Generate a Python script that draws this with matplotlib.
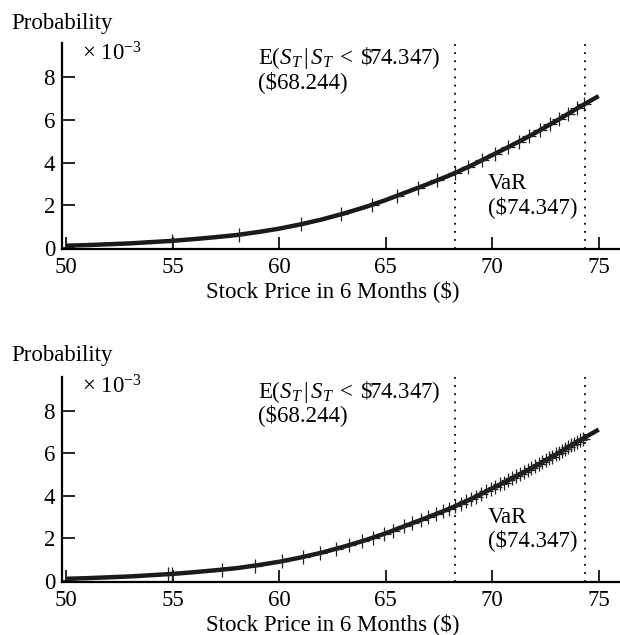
import matplotlib
matplotlib.use("Agg")
import matplotlib.pyplot as plt

plt.rcParams['font.family'] = ['Liberation Serif', 'DejaVu Serif']
plt.rcParams['mathtext.fontset'] = 'custom'
plt.rcParams['mathtext.rm'] = 'Liberation Serif'
plt.rcParams['mathtext.it'] = 'Liberation Serif:italic'

# probability density (x 10^-3)
price = [50, 51, 52, 53, 54, 55, 56, 57, 58, 59, 60, 61, 62,
         63, 64, 65, 66, 67, 68, 69, 70, 71, 72, 73, 74, 75]
density = [0.10, 0.13, 0.17, 0.21, 0.27, 0.33, 0.41, 0.50, 0.60, 0.74, 0.90, 1.10, 1.33,
           1.60, 1.90, 2.24, 2.62, 3.00, 3.40, 3.85, 4.35, 4.85, 5.38, 5.95, 6.55, 7.12]

# sample points marked with "+" (top panel)
top_x = [54.98, 58.12, 61.03, 62.91, 64.37, 65.54, 66.53, 67.42, 68.26, 68.87, 69.53,
         70.14, 70.75, 71.27, 71.74, 72.25, 72.72, 73.15, 73.57, 73.99, 74.32]
top_y = [0.33, 0.61, 1.11, 1.59, 2.03, 2.44, 2.81, 3.17, 3.52, 3.79, 4.10,
         4.42, 4.72, 4.98, 5.24, 5.52, 5.79, 6.04, 6.29, 6.54, 6.74]

# sample points marked with "+" (bottom panel)
bot_x = [54.79, 54.98, 57.32, 58.87, 60.14, 61.13, 61.92, 62.68, 63.29, 63.90, 64.41,
         64.93, 65.35, 65.87, 66.24, 66.67, 67.00, 67.37, 67.70, 67.98, 68.26, 68.54,
         68.78, 69.01, 69.25, 69.48, 69.72, 69.95, 70.14, 70.38, 70.56, 70.75, 70.94,
         71.13, 71.31, 71.50, 71.69, 71.83, 72.02, 72.21, 72.35, 72.54, 72.68, 72.82,
         73.00, 73.15, 73.29, 73.43, 73.57, 73.71, 73.85, 73.99, 74.13, 74.27]
bot_y = [0.32, 0.33, 0.53, 0.72, 0.93, 1.13, 1.31, 1.51, 1.69, 1.87, 2.04,
         2.22, 2.37, 2.57, 2.71, 2.87, 3.00, 3.15, 3.28, 3.39, 3.52, 3.64,
         3.75, 3.86, 3.97, 4.09, 4.21, 4.33, 4.42, 4.54, 4.63, 4.73, 4.82,
         4.92, 5.01, 5.11, 5.22, 5.29, 5.39, 5.50, 5.58, 5.69, 5.77, 5.85,
         5.95, 6.04, 6.12, 6.21, 6.29, 6.38, 6.46, 6.54, 6.62, 6.70]

var_level = 74.347
es_level = 68.244
fs = 16.5

fig = plt.figure(figsize=(6.2, 6.35), dpi=100)
ax_top = fig.add_axes([0.1, 0.608, 0.9, 0.324])
ax_bot = fig.add_axes([0.1, 0.0835, 0.9, 0.323])


def draw_panel(ax, mx, my, y_fig):
    ax.plot(price, density, color='#1a1a1a', lw=3.2, solid_capstyle='butt', zorder=3)
    ax.plot(mx, my, ls='none', marker='+', ms=10, mew=0.9, color='#222222', zorder=4)
    ax.axvline(es_level, color='black', ls=(0, (1, 3.5)), lw=1.3)
    ax.axvline(var_level, color='black', ls=(0, (1, 3.5)), lw=1.3)

    ax.set_xlim(49.81, 76.0)
    ax.set_ylim(-0.05, 9.6)
    ax.set_xticks([50, 55, 60, 65, 70, 75])
    ax.set_yticks([0, 2, 4, 6, 8])
    ax.tick_params(direction='in', length=9, width=1.2, labelsize=fs, pad=5)
    ax.tick_params(axis='x', pad=6)
    for s in ['top', 'right']:
        ax.spines[s].set_visible(False)
    for s in ['left', 'bottom']:
        ax.spines[s].set_linewidth(1.6)

    ax.set_xlabel('Stock Price in 6 Months ($)', fontsize=fs)
    ax.xaxis.set_label_coords((62.5 - 49.81) / (76.0 - 49.81), -0.15)

    ax.text(0.036, 0.95, r'× 10$^{-3}$', transform=ax.transAxes, fontsize=fs, va='center')
    ax.text(59.0, 8.9, r'E($S_T\,|\,S_T\;<\;$\$74.347)', fontsize=fs, va='center')
    ax.text(59.0, 7.8, '($68.244)', fontsize=fs, va='center')
    ax.text(69.8, 3.0, 'VaR', fontsize=fs, va='center')
    ax.text(69.8, 1.9, '($74.347)', fontsize=fs, va='center')
    fig.text(0.018, y_fig, 'Probability', fontsize=fs, va='center')


draw_panel(ax_top, top_x, top_y, 1 - 23 / 635)
draw_panel(ax_bot, bot_x, bot_y, 1 - 355 / 635)

plt.savefig('out.png', dpi=100)
